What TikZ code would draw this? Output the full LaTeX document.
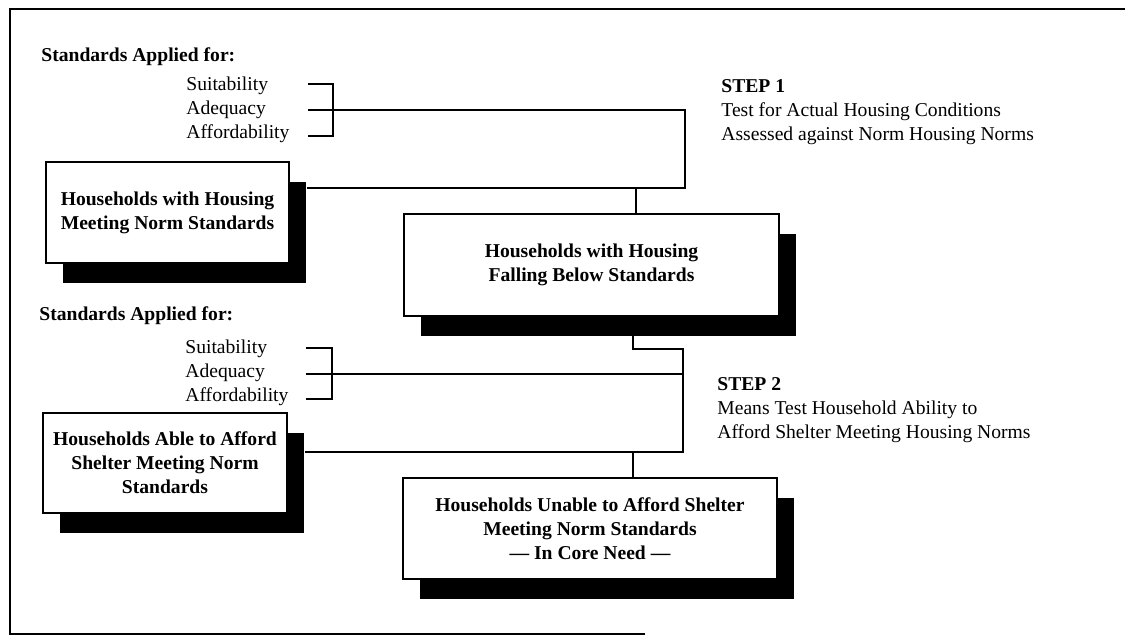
\documentclass[tikz,border=0pt]{standalone}
\usepackage{fontspec}
\setmainfont{Liberation Serif}
\usetikzlibrary{shadows}
\tikzset{
  hbox/.style={draw,line width=0.6pt,fill=white,align=center,
    font=\fontsize{9.8}{12}\selectfont\bfseries,
    drop shadow={shadow xshift=8.5pt,shadow yshift=-10pt,fill=black,opacity=1}},
  lbl/.style={anchor=west,align=left,inner sep=0pt,font=\fontsize{9.8}{12}\selectfont},
  conn/.style={line width=0.6pt}
}
\begin{document}
\begin{tikzpicture}[x=0.5pt,y=-0.5pt]
  \useasboundingbox (0,0) rectangle (1125,636);
  % frame
  \draw[line width=1pt] (1125,9) -- (10,9) -- (10,634) -- (645,634);
  % step 1
  \node[lbl,font=\fontsize{9.8}{12}\selectfont\bfseries] (sa1) at (41,57) {Standards Applied for:};
  \node[lbl] (s1) at (186,86) {Suitability};
  \node[lbl] (a1) at (186,110) {Adequacy};
  \node[lbl] (f1) at (186,134) {Affordability};
  \node[lbl] (st1) at (721,112) {\textbf{STEP 1}\\Test for Actual Housing Conditions\\Assessed against Norm Housing Norms};
  \node[hbox,minimum width=121.5pt,minimum height=50.5pt] (m1) at (167.5,212.5)
      {Households with Housing\\Meeting Norm Standards};
  \node[hbox,minimum width=187.5pt,minimum height=51pt] (m2) at (591.5,265)
      {Households with Housing\\Falling Below Standards};
  % bracket 1
  \coordinate (b1) at (333,110);
  \coordinate (j1) at (685,110);
  \coordinate (k1) at (685,188);
  \coordinate (t1) at (636,188);
  \coordinate (m1s) at ([xshift=8.5pt]m1.east);
  \draw[conn] (308,84) -| (333,136) -- (308,136);
  \draw[conn] (308,110) -- (b1) -- (j1) -- (k1) -- (m1s |- k1);
  \draw[conn] (t1) -- (t1 |- m2.north);
  % step 2
  \node[lbl,font=\fontsize{9.8}{12}\selectfont\bfseries] (sa2) at (39,316) {Standards Applied for:};
  \node[lbl] (s2) at (185,349) {Suitability};
  \node[lbl] (a2) at (185,373) {Adequacy};
  \node[lbl] (f2) at (185,397) {Affordability};
  \node[lbl] (st2) at (717,410) {\textbf{STEP 2}\\Means Test Household Ability to\\Afford Shelter Meeting Housing Norms};
  \node[hbox,minimum width=122pt,minimum height=50pt] (m3) at (165,463)
      {Households Able to Afford\\Shelter Meeting Norm\\Standards};
  \node[hbox,minimum width=187pt,minimum height=50.5pt] (m4) at (590,528.5)
      {Households Unable to Afford Shelter\\Meeting Norm Standards\\--- In Core Need ---};
  % bracket 2
  \coordinate (b2) at (332,374);
  \coordinate (d2) at (633,336);
  \coordinate (j2) at (683,349);
  \coordinate (k2) at (683,452);
  \coordinate (t2) at (633,452);
  \coordinate (m3s) at ([xshift=8.5pt]m3.east);
  \draw[conn] (306,348) -| (332,399) -- (306,399);
  \draw[conn] (306,374) -- (b2) -- (b2 -| j2);
  \draw[conn] (d2) |- (j2) -- (k2) -- (m3s |- k2);
  \draw[conn] (t2) -- (t2 |- m4.north);
\end{tikzpicture}
\end{document}
